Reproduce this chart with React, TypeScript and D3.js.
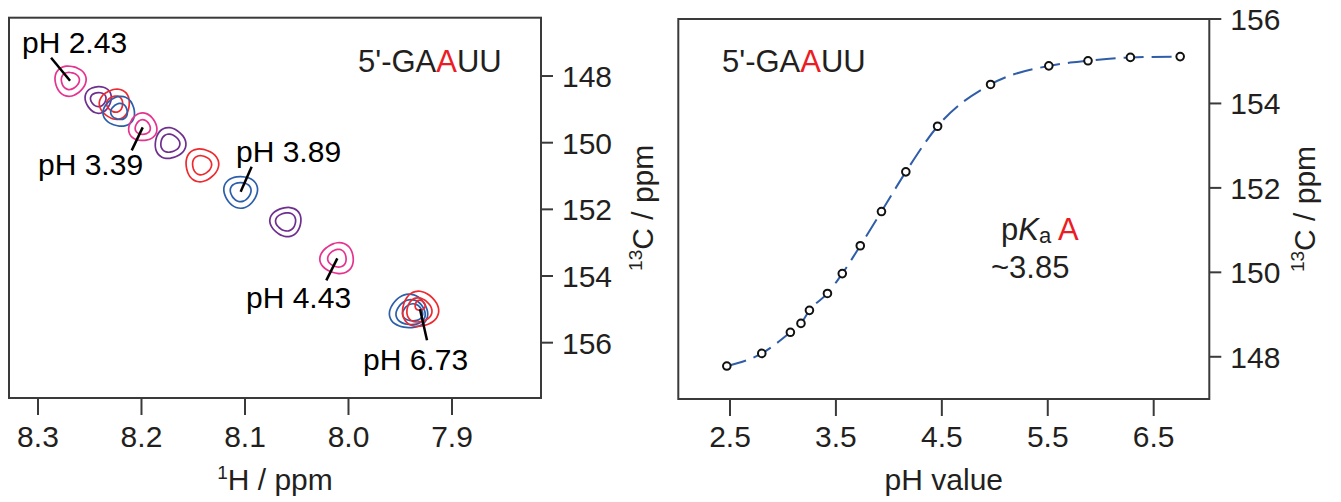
import React from "react";
import * as d3 from "d3";

const W = 1341;
const H = 502;

// ---------- Right panel: titration curve data ----------
const phValues = [2.47, 2.8, 3.07, 3.17, 3.25, 3.42, 3.56, 3.73, 3.93, 4.16, 4.46, 4.96, 5.51, 5.88, 6.28, 6.75];
const shiftC = [147.78, 148.08, 148.58, 148.79, 149.1, 149.5, 149.97, 150.63, 151.44, 152.38, 153.46, 154.45, 154.89, 155.01, 155.09, 155.11];

// ---------- Left panel: HSQC peaks ----------
const peakH = [8.269, 8.2417, 8.2256, 8.2214, 8.1988, 8.1725, 8.1418, 8.1042, 8.0604, 8.0108, 7.9389, 7.9309];
const peakC = [148.14, 148.7, 148.84, 149.07, 149.54, 150.02, 150.67, 151.47, 152.37, 153.47, 155.07, 155.0];
const peakSeries = ["pink", "purple", "red", "blue", "pink", "purple", "red", "blue", "purple", "pink", "blue", "red"];

const phLabels = ["pH 2.43", "pH 3.39", "pH 3.89", "pH 4.43", "pH 6.73"];
const phLabelPeak = [0, 4, 7, 9, 11];

// ---------- Ticks ----------
const leftXTicks = [8.3, 8.2, 8.1, 8.0, 7.9];
const leftYTicks = [148, 150, 152, 154, 156];
const rightXTicks = [2.5, 3.5, 4.5, 5.5, 6.5];
const rightYTicks = [148, 150, 152, 154, 156];

// ---------- Styles ----------
const COLORS: Record<string, string> = {
  pink: "#e6338e",
  purple: "#6e2f8f",
  red: "#ee2a2e",
  blue: "#2c5faa",
};
const FONT = "'Liberation Sans', Arial, Helvetica, sans-serif";
const TXT = "#231f20";
const AX = "#3a3a3a";
const FS = 30;

// ring radii per peak [rx, ry] (style)
const RINGS: number[][][] = [
  [[15.5, 15], [9, 8.5]],
  [[13, 13.3], [7.7, 7]],
  [[15, 15], [8, 8]],
  [[15.7, 14.8], [8.3, 8]],
  [[14, 13.8], [7.5, 7.3]],
  [[15.3, 15.3], [9.5, 9]],
  [[16.3, 16.3], [9.5, 9.5]],
  [[16.7, 15.8], [10.3, 9.5]],
  [[15.5, 14.5], [10, 9]],
  [[16.7, 15.3], [9.2, 8.8]],
  [[19, 16.7], [14.5, 12.5], [10, 8.5]],
  [[18, 17.5], [12.5, 12], [5, 5]],
];
const RING_OFFSETS: number[][][] = [
  [[0, 0], [0, 0]],
  [[0, 0], [0, 0]],
  [[0, 0], [0, 0]],
  [[0, 0], [0, 0]],
  [[0, 0], [0, 0]],
  [[0, 0], [0, 0]],
  [[0, 0], [0, 0]],
  [[0, 0], [0, 0]],
  [[0, 0], [0, 0]],
  [[0, 0], [0, 0]],
  [[-3, 0], [-1, 1], [1, 1]],
  [[0, 0], [-1, 1], [0, -4]],
];
// label layout: leader line end offset (dx, dy) from peak, text start (x, y)
const LABEL_LAYOUT = [
  { lx: -19, ly: -23, tx: 22, ty: 53 },
  { lx: -11, ly: 23, tx: 38, ty: 175 },
  { lx: 11, ly: -25, tx: 236, ty: 162 },
  { lx: -11, ly: 22, tx: 246, ty: 308 },
  { lx: 7, ly: 31, tx: 363, ty: 370 },
];

// ---------- Geometry ----------
const L = { x0: 9, x1: 541, y0: 17.7, y1: 398 };
const R = { x0: 678.3, x1: 1209.3, y0: 19, y1: 399 };

const xH = d3.scaleLinear().domain([8.328, 7.814]).range([L.x0, L.x1]);
const yCL = d3.scaleLinear().domain([146.25, 157.66]).range([L.y0, L.y1]);
const xPH = d3.scaleLinear().domain([2.012, 7.025]).range([R.x0, R.x1]);
const yCR = d3.scaleLinear().domain([147, 156]).range([R.y1, R.y0]);

function ringPath(cx: number, cy: number, rx: number, ry: number, phase: number) {
  const n = 24;
  const pts: [number, number][] = [];
  for (let i = 0; i < n; i++) {
    const t = (i / n) * Math.PI * 2;
    const m = 1 + 0.05 * Math.cos(3 * t + phase);
    pts.push([cx + rx * m * Math.cos(t), cy + ry * m * Math.sin(t)]);
  }
  return d3.line().curve(d3.curveCardinalClosed.tension(0.3))(pts) || "";
}

function Label13C({ x, yMid }: { x: number; yMid: number }) {
  return (
    <text
      transform={`translate(${x},${yMid}) rotate(-90)`}
      textAnchor="middle"
      fontSize={FS}
      fontFamily={FONT}
      fill={TXT}
    >
      <tspan fontSize={19} dy={-11}>13</tspan>
      <tspan dy={11}>C / ppm</tspan>
    </text>
  );
}

export default function App() {
  const lineGen = d3
    .line<number>()
    .x((_, i) => xPH(phValues[i]))
    .y((d) => yCR(d))
    .curve(d3.curveMonotoneX);

  return (
    <svg
      width={W}
      height={H}
      style={{ position: "absolute", left: 0, top: 0, background: "#fff" }}
      fontFamily={FONT}
    >
      <rect x={0} y={0} width={W} height={H} fill="#fff" />

      {/* ================= LEFT PANEL ================= */}
      {peakH.map((h, i) => {
        const cx = xH(h);
        const cy = yCL(peakC[i]);
        return (
          <g key={"pk" + i}>
            {RINGS[i].map((r, j) => (
              <path
                key={j}
                d={ringPath(cx + RING_OFFSETS[i][j][0], cy + RING_OFFSETS[i][j][1], r[0], r[1], 0.8 + i)}
                fill="none"
                stroke={COLORS[peakSeries[i]]}
                strokeWidth={1.7}
              />
            ))}
          </g>
        );
      })}
      {phLabels.map((lab, k) => {
        const p = phLabelPeak[k];
        const cx = xH(peakH[p]);
        const cy = yCL(peakC[p]);
        const lay = LABEL_LAYOUT[k];
        return (
          <g key={"lab" + k}>
            <line x1={cx} y1={cy} x2={cx + lay.lx} y2={cy + lay.ly} stroke="#000" strokeWidth={2.5} />
            <text x={lay.tx} y={lay.ty} fontSize={FS} fill="#000">
              {lab}
            </text>
          </g>
        );
      })}
      <text x={358} y={72} fontSize={31} fill={TXT}>
        5'-GA<tspan fill="#ed1c24">A</tspan>UU
      </text>

      <rect x={L.x0} y={L.y0} width={L.x1 - L.x0} height={L.y1 - L.y0} fill="none" stroke={AX} strokeWidth={2} />
      {leftXTicks.map((t) => (
        <g key={"lx" + t}>
          <line x1={xH(t)} x2={xH(t)} y1={L.y1} y2={L.y1 + 17} stroke={AX} strokeWidth={2} />
          <text x={xH(t)} y={447} textAnchor="middle" fontSize={FS} fill={TXT}>
            {t.toFixed(1)}
          </text>
        </g>
      ))}
      {leftYTicks.map((t) => (
        <g key={"ly" + t}>
          <line x1={L.x1} x2={L.x1 + 12} y1={yCL(t)} y2={yCL(t)} stroke={AX} strokeWidth={2} />
          <text x={L.x1 + 21} y={yCL(t) + 11} fontSize={FS} fill={TXT}>
            {t}
          </text>
        </g>
      ))}
      <text x={(L.x0 + L.x1) / 2} y={490} textAnchor="middle" fontSize={FS} fill={TXT}>
        <tspan fontSize={19} dy={-11}>1</tspan>
        <tspan dy={11}>H / ppm</tspan>
      </text>
      <Label13C x={653} yMid={(L.y0 + L.y1) / 2} />

      {/* ================= RIGHT PANEL ================= */}
      <path
        d={lineGen(shiftC) || ""}
        fill="none"
        stroke="#2f5da8"
        strokeWidth={2}
        strokeDasharray="20 8"
      />
      {phValues.map((p, i) => (
        <circle key={"pt" + i} cx={xPH(p)} cy={yCR(shiftC[i])} r={3.8} fill="#fff" stroke="#111" strokeWidth={2} />
      ))}
      <text x={722} y={72} fontSize={31} fill={TXT}>
        5'-GA<tspan fill="#ed1c24">A</tspan>UU
      </text>
      <text x={1001} y={240} fontSize={31} fill={TXT}>
        p<tspan fontStyle="italic">K</tspan>
        <tspan fontSize={22} dy={3}>a</tspan>
        <tspan dy={-3}> </tspan>
        <tspan fill="#ed1c24">A</tspan>
      </text>
      <text x={991} y={278} fontSize={31} fill={TXT}>
        ~3.85
      </text>

      <rect x={R.x0} y={R.y0} width={R.x1 - R.x0} height={R.y1 - R.y0} fill="none" stroke={AX} strokeWidth={2} />
      {rightXTicks.map((t) => (
        <g key={"rx" + t}>
          <line x1={xPH(t)} x2={xPH(t)} y1={R.y1} y2={R.y1 + 17} stroke={AX} strokeWidth={2} />
          <text x={xPH(t)} y={447} textAnchor="middle" fontSize={FS} fill={TXT}>
            {t.toFixed(1)}
          </text>
        </g>
      ))}
      {rightYTicks.map((t) => (
        <g key={"ry" + t}>
          <line x1={R.x1} x2={R.x1 + 12} y1={yCR(t)} y2={yCR(t)} stroke={AX} strokeWidth={2} />
          <text x={R.x1 + 21} y={yCR(t) + 11} fontSize={FS} fill={TXT}>
            {t}
          </text>
        </g>
      ))}
      <text x={(R.x0 + R.x1) / 2} y={490} textAnchor="middle" fontSize={FS} fill={TXT}>
        pH value
      </text>
      <Label13C x={1315} yMid={(R.y0 + R.y1) / 2} />
    </svg>
  );
}
